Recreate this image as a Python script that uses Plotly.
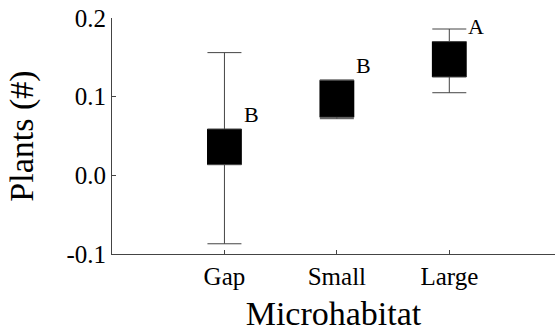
import plotly.graph_objects as go

# Microhabitat categories and their summary statistics for plant counts
categories = ["Gap", "Small", "Large"]
box_low = [0.0135, 0.0738, 0.125]
box_high = [0.0589, 0.121, 0.170]
whisker_low = [-0.087, 0.072, 0.105]
whisker_high = [0.156, 0.121, 0.186]
group_letters = ["B", "B", "A"]
letter_y = [0.0773, 0.139, 0.189]

y_tickvals = [-0.1, 0.0, 0.1, 0.2]
y_ticktext = ["-0.1", "0.0", "0.1", "0.2"]

xpos = list(range(1, len(categories) + 1))
serif = "Times New Roman, Liberation Serif, serif"
axis_color = "#444444"
zeros = [0] * len(categories)

fig = go.Figure()

# Filled boxes
fig.add_trace(go.Bar(
    x=xpos, y=[h - l for h, l in zip(box_high, box_low)], base=box_low,
    width=0.31, marker=dict(color="black", line=dict(width=0)),
    showlegend=False, hoverinfo="skip",
))

# Upper whiskers: from the top of each box to the upper limit
fig.add_trace(go.Scatter(
    x=xpos, y=box_high, mode="markers",
    marker=dict(size=1, color="rgba(0,0,0,0)"),
    error_y=dict(type="data", symmetric=False,
                 array=[w - b for w, b in zip(whisker_high, box_high)],
                 arrayminus=zeros,
                 color=axis_color, thickness=1, width=17),
    showlegend=False, hoverinfo="skip",
))

# Lower whiskers: from the bottom of each box to the lower limit
fig.add_trace(go.Scatter(
    x=xpos, y=box_low, mode="markers",
    marker=dict(size=1, color="rgba(0,0,0,0)"),
    error_y=dict(type="data", symmetric=False,
                 array=zeros,
                 arrayminus=[b - w for b, w in zip(box_low, whisker_low)],
                 color=axis_color, thickness=1, width=17),
    showlegend=False, hoverinfo="skip",
))

# Significance letters
for x, y, t in zip(xpos, letter_y, group_letters):
    fig.add_annotation(x=x + 0.24, y=y, text=t, showarrow=False,
                       font=dict(family=serif, size=22, color="black"),
                       xanchor="center", yanchor="middle")

fig.update_layout(
    width=555, height=335,
    margin=dict(l=112, r=0, t=18, b=81),
    paper_bgcolor="white", plot_bgcolor="white",
    font=dict(family=serif, color="black"),
    barmode="overlay",
    xaxis=dict(
        range=[0, 3.94], tickvals=xpos, ticktext=categories,
        showline=True, linecolor=axis_color, linewidth=1,
        ticks="inside", ticklen=4, tickcolor=axis_color,
        showgrid=False, zeroline=False,
        tickfont=dict(family=serif, size=25, color="black"),
        title=dict(text="Microhabitat", font=dict(family=serif, size=34, color="black"), standoff=12),
    ),
    yaxis=dict(
        range=[-0.1, 0.2], tickvals=y_tickvals, ticktext=y_ticktext,
        showline=True, linecolor=axis_color, linewidth=1,
        ticks="inside", ticklen=4, tickcolor=axis_color,
        showgrid=False, zeroline=False,
        tickfont=dict(family=serif, size=25, color="black"),
        title=dict(text="Plants (#)", font=dict(family=serif, size=34, color="black"), standoff=22),
    ),
)

fig.write_html("out.html")
